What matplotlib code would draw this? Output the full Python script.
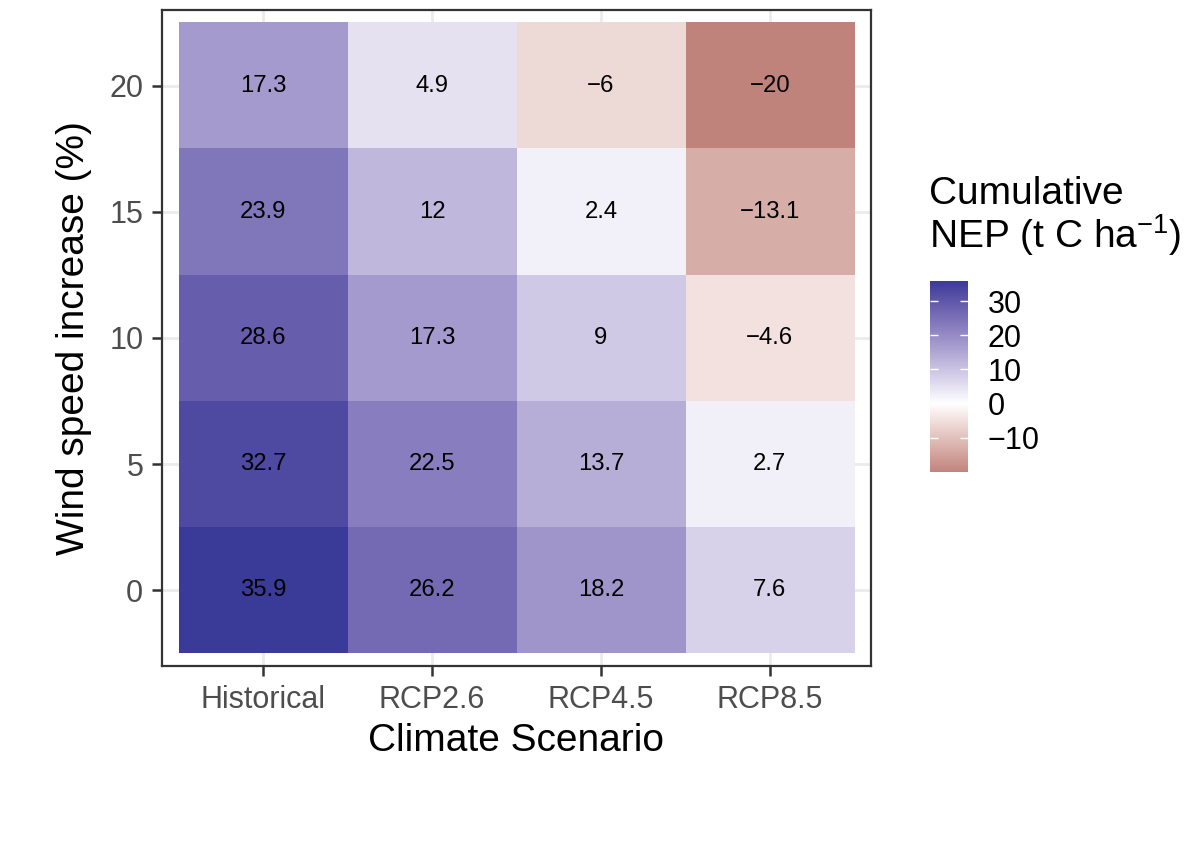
import numpy as np
import matplotlib
matplotlib.use("Agg")
import matplotlib.pyplot as plt
from matplotlib.colors import ListedColormap, Normalize, to_rgb

plt.rcParams['font.family'] = ['Liberation Sans', 'DejaVu Sans']

scenarios = ["Historical", "RCP2.6", "RCP4.5", "RCP8.5"]
wind = [0, 5, 10, 15, 20]
nep_historical = [35.9, 32.7, 28.6, 23.9, 17.3]
nep_rcp26 = [26.2, 22.5, 17.3, 12, 4.9]
nep_rcp45 = [18.2, 13.7, 9, 2.4, -6]
nep_rcp85 = [7.6, 2.7, -4.6, -13.1, -20]
cbar_ticks = [-10, 0, 10, 20, 30]

Z = np.array([nep_historical, nep_rcp26, nep_rcp45, nep_rcp85]).T  # rows = wind

# --- ggplot2 scale_fill_gradient2 (Lab interpolation, muted red / white / muted blue)
low_c, mid_c, high_c = "#832424", "#FFFFFF", "#3A3A98"

def srgb_to_lab(rgb):
    rgb = np.asarray(rgb, float)
    lin = np.where(rgb <= 0.04045, rgb / 12.92, ((rgb + 0.055) / 1.055) ** 2.4)
    M = np.array([[0.4124564, 0.3575761, 0.1804375],
                  [0.2126729, 0.7151522, 0.0721750],
                  [0.0193339, 0.1191920, 0.9503041]])
    xyz = M @ lin
    wp = np.array([0.95047, 1.0, 1.08883])
    t = xyz / wp
    f = np.where(t > 216 / 24389, np.cbrt(t), (24389 / 27 * t + 16) / 116)
    return np.array([116 * f[1] - 16, 500 * (f[0] - f[1]), 200 * (f[1] - f[2])])

def lab_to_srgb(lab):
    L, a, b = lab
    fy = (L + 16) / 116
    fx = fy + a / 500
    fz = fy - b / 200
    def finv(f):
        return np.where(f ** 3 > 216 / 24389, f ** 3, (116 * f - 16) / (24389 / 27))
    wp = np.array([0.95047, 1.0, 1.08883])
    xyz = np.array([finv(fx), finv(fy), finv(fz)]) * wp
    Minv = np.array([[3.2404542, -1.5371385, -0.4985314],
                     [-0.9692660, 1.8760108, 0.0415560],
                     [0.0556434, -0.2040259, 1.0572252]])
    lin = Minv @ xyz
    lin = np.clip(lin, 0, 1)
    rgb = np.where(lin <= 0.0031308, 12.92 * lin, 1.055 * lin ** (1 / 2.4) - 0.055)
    return np.clip(rgb, 0, 1)

labs = [srgb_to_lab(to_rgb(c)) for c in (low_c, mid_c, high_c)]
vmin, vmax = float(Z.min()), float(Z.max())
span = max(abs(vmin), abs(vmax))
vals = np.linspace(vmin, vmax, 512)
cols = []
for v in vals:
    p = v / span / 2 + 0.5
    if p <= 0.5:
        t = p / 0.5
        lab = labs[0] + (labs[1] - labs[0]) * t
    else:
        t = (p - 0.5) / 0.5
        lab = labs[1] + (labs[2] - labs[1]) * t
    cols.append(lab_to_srgb(lab))
cmap = ListedColormap(cols)
norm = Normalize(vmin=vmin, vmax=vmax)

W, H = 1200, 844
fig = plt.figure(figsize=(12, 8.44), dpi=100)
ax = fig.add_axes([162 / W, 1 - 666 / H, 709 / W, 656 / H])

nx, ny = len(scenarios), len(wind)
ax.imshow(Z, cmap=cmap, norm=norm, origin='lower', aspect='auto',
          extent=(0.5, nx + 0.5, -0.5, ny - 0.5), interpolation='nearest', zorder=1)
for j in range(ny):
    for i in range(nx):
        v = Z[j, i]
        s = f"{v:g}".replace("-", "\u2212")
        ax.text(i + 1, j, s, ha='center', va='center', fontsize=17.2, color='black', zorder=3)

ax.set_xlim(0.4, nx + 0.6)
ax.set_ylim(-0.6, ny - 0.4)
ax.set_xticks(np.arange(1, nx + 1))
ax.set_xticklabels(scenarios)
ax.set_yticks(np.arange(ny))
ax.set_yticklabels([str(w) for w in wind])
ax.set_axisbelow(True)
ax.grid(True, color='#EBEBEB', linewidth=2.0, zorder=0)
for sp in ax.spines.values():
    sp.set_color('#333333')
    sp.set_linewidth(1.6)
    sp.set_zorder(4)
ax.tick_params(axis='both', length=7, width=1.8, color='#333333',
               labelcolor='#4D4D4D', labelsize=22, pad=6.5)
ax.set_xlabel("Climate Scenario", fontsize=28, color='black', labelpad=6)
ax.set_ylabel("Wind speed increase (%)", fontsize=28, color='black', labelpad=12)

# legend colorbar
cax = fig.add_axes([930 / W, 1 - 472 / H, 38 / W, 191 / H])
sm = plt.cm.ScalarMappable(cmap=cmap, norm=norm)
cb = fig.colorbar(sm, cax=cax)
cb.outline.set_visible(False)
cb.set_ticks(cbar_ticks)
cax.yaxis.set_ticks_position('both')
cax.tick_params(axis='y', direction='in', length=5.5, width=1.0, color='white',
                labelright=True, labelleft=False, labelsize=22, labelcolor='black', pad=14)
fig.text(929 / W, 1 - 176 / H, "Cumulative\nNEP (t C ha$^{\\mathregular{-1}}$)",
         ha='left', va='top', fontsize=28, linespacing=1.0)

fig.savefig("out.png", dpi=100)
